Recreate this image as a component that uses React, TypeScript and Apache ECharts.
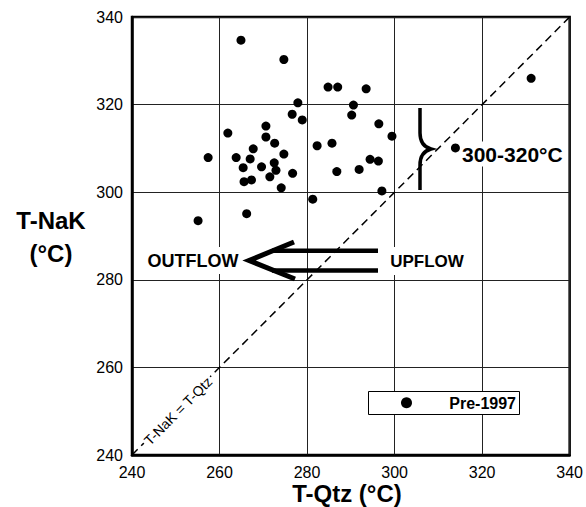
import React, { useEffect, useRef } from "react";
import * as echarts from "echarts";

const tqtz = [264.9, 274.7, 284.8, 287.0, 293.5, 277.9, 290.6, 276.6, 278.9, 290.2, 296.4, 270.6, 261.9, 270.6, 299.4, 272.6, 267.7, 282.3, 285.7, 274.7, 257.4, 263.8, 267.0, 294.4, 296.3, 272.5, 265.4, 269.6, 272.9, 286.8, 291.9, 276.7, 265.6, 267.3, 271.5, 274.1, 297.1, 281.3, 266.2, 255.1, 313.9, 331.2];
const tnak = [334.7, 330.3, 324.0, 324.0, 323.6, 320.4, 319.9, 317.8, 316.5, 317.6, 315.6, 315.1, 313.5, 312.6, 312.8, 311.2, 309.9, 310.6, 311.2, 308.7, 307.9, 307.9, 307.6, 307.5, 307.1, 306.7, 305.6, 305.8, 305.0, 304.7, 305.2, 304.3, 302.4, 302.8, 303.5, 301.0, 300.3, 298.4, 295.1, 293.5, 310.1, 326.0];
const axisTicks = [240, 260, 280, 300, 320, 340];
const equalLine = [[240, 240], [340, 340]];

const FONT = "Liberation Sans, Arial, sans-serif";

echarts.graphic.registerShape(
  "brace",
  echarts.graphic.extendPath("M0,0 L0,25 Q0,38 11,41 Q0,44 0,57 L0,82", {})
);

export default function App() {
  const ref = useRef<HTMLDivElement>(null);
  useEffect(() => {
    if (!ref.current) return;
    const chart = echarts.init(ref.current, null, { renderer: "svg" });
    const axisCommon = {
      type: "value",
      min: axisTicks[0],
      max: axisTicks[axisTicks.length - 1],
      interval: 20,
      axisLine: { show: true, lineStyle: { color: "#000", width: 2.5 } },
      axisTick: { show: false },
      splitLine: { show: true, lineStyle: { color: "#222", width: 1 } },
      axisLabel: { color: "#000", fontSize: 16, fontFamily: FONT },
    };
    chart.setOption({
      animation: false,
      backgroundColor: "#fff",
      grid: {
        left: 132,
        top: 17,
        width: 438,
        height: 438,
        show: true,
        borderColor: "#000",
        borderWidth: 2.5,
        backgroundColor: "transparent",
      },
      xAxis: { ...axisCommon, axisLabel: { ...axisCommon.axisLabel, margin: 9 } },
      yAxis: { ...axisCommon, axisLabel: { ...axisCommon.axisLabel, margin: 9 } },
      series: [
        {
          type: "line",
          data: equalLine,
          symbol: "none",
          lineStyle: { color: "#000", width: 1.5, type: [8, 5] },
          z: 1,
        },
        {
          name: "Pre-1997",
          type: "scatter",
          data: tqtz.map((x, i) => [x, tnak[i]]),
          symbol: "circle",
          symbolSize: 9,
          itemStyle: { color: "#000", opacity: 1 },
          z: 3,
        },
      ],
      graphic: [
        // Axis titles
        {
          type: "text",
          style: {
            text: "T-Qtz (°C)",
            x: 347,
            y: 493,
            fontSize: 24,
            fontWeight: "bold",
            fontFamily: FONT,
            fill: "#000",
            align: "center",
            verticalAlign: "middle",
          },
        },
        {
          type: "text",
          style: {
            text: "T-NaK\n(°C)",
            x: 51,
            y: 237,
            fontSize: 24,
            fontWeight: "bold",
            fontFamily: FONT,
            fill: "#000",
            align: "center",
            verticalAlign: "middle",
            lineHeight: 33,
          },
        },
        // Diagonal label
        {
          type: "text",
          x: 178,
          y: 411,
          rotation: Math.PI / 4,
          z: 10,
          style: {
            text: "T-NaK = T-Qtz",
            fontSize: 14,
            fontFamily: FONT,
            fill: "#000",
            align: "center",
            verticalAlign: "middle",
            backgroundColor: "#fff",
            padding: [1, 2],
          },
        },
        // Arrow
        {
          type: "polyline",
          z: 10,
          shape: { points: [[294, 242], [249, 260.5], [295, 279]] },
          style: { stroke: "#000", lineWidth: 5, fill: "none", lineJoin: "miter" },
        },
        {
          type: "line",
          z: 10,
          shape: { x1: 272, y1: 250.7, x2: 378, y2: 250.7 },
          style: { stroke: "#000", lineWidth: 4.5 },
        },
        {
          type: "line",
          z: 10,
          shape: { x1: 272, y1: 270.5, x2: 378, y2: 270.5 },
          style: { stroke: "#000", lineWidth: 4.5 },
        },
        {
          type: "rect",
          z: 9,
          shape: { x: 140, y: 247, width: 104, height: 27 },
          style: { fill: "#fff" },
        },
        {
          type: "text",
          z: 10,
          style: {
            text: "OUTFLOW",
            x: 193,
            y: 261,
            fontSize: 18,
            fontWeight: "bold",
            fontFamily: FONT,
            fill: "#000",
            align: "center",
            verticalAlign: "middle",
          },
        },
        {
          type: "rect",
          z: 9,
          shape: { x: 380, y: 247, width: 102, height: 28 },
          style: { fill: "#fff" },
        },
        {
          type: "text",
          z: 10,
          style: {
            text: "UPFLOW",
            x: 427,
            y: 261,
            fontSize: 17,
            fontWeight: "bold",
            fontFamily: FONT,
            fill: "#000",
            align: "center",
            verticalAlign: "middle",
          },
        },
        // Brace + label
        {
          type: "brace",
          x: 420,
          y: 108,
          z: 10,
          style: { stroke: "#000", lineWidth: 3.5, fill: "none" },
        },
        {
          type: "text",
          z: 10,
          style: {
            text: "300-320°C",
            x: 461,
            y: 154,
            fontSize: 21,
            fontWeight: "bold",
            fontFamily: FONT,
            fill: "#000",
            align: "left",
            verticalAlign: "middle",
            backgroundColor: "#fff",
            padding: [2, 1],
          },
        },
        // Legend
        {
          type: "rect",
          z: 10,
          shape: { x: 368.5, y: 391.5, width: 151, height: 23 },
          style: { fill: "#fff", stroke: "#000", lineWidth: 1 },
        },
        {
          type: "circle",
          z: 11,
          shape: { cx: 406.5, cy: 402.7, r: 5.5 },
          style: { fill: "#000" },
        },
        {
          type: "text",
          z: 11,
          style: {
            text: "Pre-1997",
            x: 516,
            y: 403,
            fontSize: 16,
            fontWeight: "bold",
            fontFamily: FONT,
            fill: "#000",
            align: "right",
            verticalAlign: "middle",
          },
        },
      ],
    });
    return () => chart.dispose();
  }, []);
  return (
    <div
      ref={ref}
      style={{ position: "absolute", left: 0, top: 0, width: 586, height: 507 }}
    />
  );
}
